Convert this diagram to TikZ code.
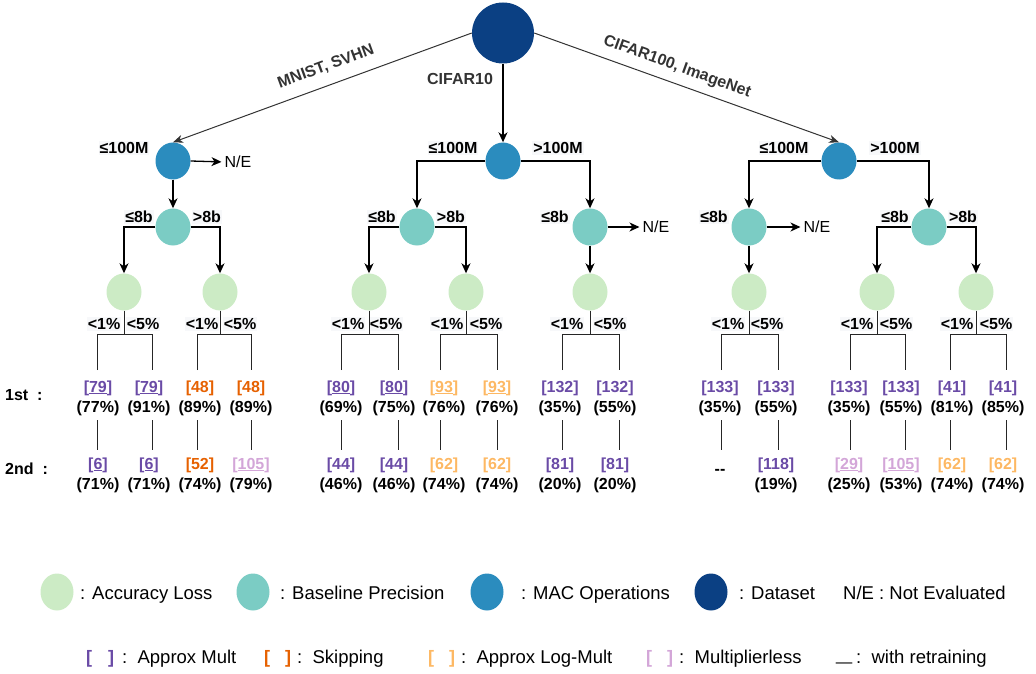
\documentclass[tikz,border=0pt]{standalone}
\usepackage{fontspec}
\setmainfont{Liberation Sans}
\usetikzlibrary{shapes.geometric,arrows.meta}
\definecolor{cAcc}{HTML}{CCEBC5}
\definecolor{cBase}{HTML}{7BCCC4}
\definecolor{cMac}{HTML}{2B8CBE}
\definecolor{cData}{HTML}{0B4083}
\definecolor{cPur}{HTML}{6A4BA6}
\definecolor{cOra}{HTML}{E66101}
\definecolor{cLor}{HTML}{FDB863}
\definecolor{cPink}{HTML}{D3A6D8}
\definecolor{cEdge}{HTML}{333333}
\definecolor{cLbg}{HTML}{F7F8FA}
\newcommand\rP[1]{\textcolor{cPur}{[#1]}}
\newcommand\rO[1]{\textcolor{cOra}{[#1]}}
\newcommand\rL[1]{\textcolor{cLor}{[#1]}}
\newcommand\rK[1]{\textcolor{cPink}{[#1]}}
\begin{document}
\begin{tikzpicture}[x=1pt,y=-1pt,
 circ/.style={ellipse,draw=none,minimum width=35pt,minimum height=37pt,inner sep=0pt},
 accn/.style={circ,fill=cAcc},
 basen/.style={circ,fill=cBase},
 macn/.style={circ,fill=cMac},
 arr/.style={draw=black,line width=1.3pt,-{Stealth[length=10pt,width=9pt,inset=3pt]}},
 darr/.style={draw=cEdge,line width=1pt,-{Stealth[length=10pt,width=8pt,inset=3pt]}},
 ln/.style={draw=black!85,line width=1pt},
 lbl/.style={font=\fontsize{16}{19}\selectfont\bfseries,inner sep=1pt,fill=cLbg},
 ne/.style={font=\fontsize{16}{19}\selectfont,inner sep=0pt},
 leaf/.style={font=\fontsize{16}{19}\selectfont\bfseries,inner sep=0pt,text height=12pt,text depth=4pt},
 dlbl/.style={font=\fontsize{16}{19}\selectfont\bfseries,text=cEdge,inner sep=0pt},
 rowlbl/.style={font=\fontsize{16}{19}\selectfont\bfseries,inner sep=0pt,anchor=west},
 lgtxt/.style={font=\fontsize{18.5}{22}\selectfont,inner sep=0pt,anchor=base west},
 lgbr/.style={font=\fontsize{18}{22}\selectfont\bfseries,inner sep=0pt,anchor=base west},
]
\useasboundingbox (0,0) rectangle (1036,674);

% dataset
\node[ellipse,fill=cData,minimum width=62pt,minimum height=61pt,inner sep=0pt] (ds) at (503,33) {};

% MAC nodes
\node[macn] (macA) at (173,161) {};
\node[macn] (macB) at (503,161) {};
\node[macn] (macC) at (839,161) {};

% baseline nodes
\node[basen] (baseA) at (173,227) {};
\node[basen] (baseB1) at (417,227) {};
\node[basen] (baseB2) at (590,227) {};
\node[basen] (baseC1) at (749,227) {};
\node[basen] (baseC2) at (929,227) {};

% accuracy nodes
\node[accn] (accA1) at (124,292) {};
\node[accn] (accA2) at (220,292) {};
\node[accn] (accB1) at (369,292) {};
\node[accn] (accB2) at (466,292) {};
\node[accn] (accB3) at (590,292) {};
\node[accn] (accC1) at (749,292) {};
\node[accn] (accC2) at (877,292) {};
\node[accn] (accC3) at (976,292) {};

% dataset edges
\draw[darr] (ds.west) -- (macA.north);
\draw[arr] (ds.south) -- (macB.north);
\draw[darr] (ds.east) -- (macC.north);
\node[dlbl,rotate=20.2] (tMN) at (326,67) {MNIST, SVHN};
\node[dlbl] (tC10) at (460,79) {CIFAR10};
\node[dlbl,rotate=-19.9] (tC100) at (677,67) {CIFAR100, ImageNet};

% N/E nodes
\node[ne] (neA) at (238,162) {N/E};
\node[ne] (neB) at (656,227) {N/E};
\node[ne] (neC) at (817,227) {N/E};

% tree A
\draw[arr] (macA) -- (baseA);
\draw[arr,shorten >=3pt] (macA.east) -- (neA.west);
\draw[arr] (baseA.west) -| (accA1.north);
\draw[arr] (baseA.east) -| (accA2.north);
% tree B
\draw[arr] (macB.west) -| (baseB1.north);
\draw[arr] (macB.east) -| (baseB2.north);
\draw[arr] (baseB1.west) -| (accB1.north);
\draw[arr] (baseB1.east) -| (accB2.north);
\draw[arr] (baseB2) -- (accB3);
\draw[arr,shorten >=3pt] (baseB2.east) -- (neB.west);
% tree C
\draw[arr] (macC.west) -| (baseC1.north);
\draw[arr] (macC.east) -| (baseC2.north);
\draw[arr] (baseC1) -- (accC1);
\draw[arr,shorten >=3pt] (baseC1.east) -- (neC.west);
\draw[arr] (baseC2.west) -| (accC2.north);
\draw[arr] (baseC2.east) -| (accC3.north);

% branch labels
\node[lbl] (l1) at (124,148) {≤100M};
\node[lbl] (l2) at (139,217) {≤8b};
\node[lbl] (l3) at (207,217) {>8b};
\node[lbl] (l4) at (453,148) {≤100M};
\node[lbl] (l5) at (558,148) {>100M};
\node[lbl] (l6) at (382,217) {≤8b};
\node[lbl] (l7) at (451,217) {>8b};
\node[lbl] (l8) at (555,217) {≤8b};
\node[lbl] (l9) at (784,148) {≤100M};
\node[lbl] (l10) at (895,148) {>100M};
\node[lbl] (l11) at (714,217) {≤8b};
\node[lbl] (l12) at (895,217) {≤8b};
\node[lbl] (l13) at (963,217) {>8b};

\foreach \n/\xa/\xb in {a1/104/143, a2/202/240, b1/348/386, b2/447/486, b3/567/610, c1/728/767, c2/857/896, c3/957/996} {
  \node[lbl] (pl-\n) at (\xa,324) {<1\%};
  \node[lbl] (pr-\n) at (\xb,324) {<5\%};
}

% leaves: name / text x / line x / refs and percentages
\foreach \n/\x/\lx/\ra/\pa/\rb/\pb in {
  a1/98/97/{\rP{\underline{79}}}/{(77\%)}/{\rP{\underline{6}}}/{(71\%)},
  a2/149/152/{\rP{\underline{79}}}/{(91\%)}/{\rP{\underline{6}}}/{(71\%)},
  a3/200/197/{\rO{48}}/{(89\%)}/{\rO{52}}/{(74\%)},
  a4/251/251/{\rO{48}}/{(89\%)}/{\rK{\underline{105}}}/{(79\%)},
  b1/341/341/{\rP{\underline{80}}}/{(69\%)}/{\rP{44}}/{(46\%)},
  b2/394/398/{\rP{\underline{80}}}/{(75\%)}/{\rP{44}}/{(46\%)},
  b3/444/440/{\rL{\underline{93}}}/{(76\%)}/{\rL{62}}/{(74\%)},
  b4/497/497/{\rL{\underline{93}}}/{(76\%)}/{\rL{62}}/{(74\%)},
  b5/560/562/{\rP{132}}/{(35\%)}/{\rP{81}}/{(20\%)},
  b6/615/619/{\rP{132}}/{(55\%)}/{\rP{81}}/{(20\%)},
  c1/720/721/{\rP{133}}/{(35\%)}/{\raisebox{-5pt}{-{}-}}/{},
  c2/776/778/{\rP{133}}/{(55\%)}/{\rP{118}}/{(19\%)},
  c3/849/850/{\rP{133}}/{(35\%)}/{\rK{\underline{29}}}/{(25\%)},
  c4/901/905/{\rP{133}}/{(55\%)}/{\rK{\underline{105}}}/{(53\%)},
  c5/952/950/{\rP{41}}/{(81\%)}/{\rL{62}}/{(74\%)},
  c6/1003/1006/{\rP{41}}/{(85\%)}/{\rL{62}}/{(74\%)}} {
  \node[leaf] (r1-\n) at (\x,388) {\ra};
  \node[leaf] (p1-\n) at (\x,408) {\pa};
  \node[leaf] (r2-\n) at (\x,465) {\rb};
  \node[leaf] (p2-\n) at (\x,485) {\pb};
  \coordinate (u-\n) at (\lx,370);
  \coordinate (d1-\n) at (\lx,420);
  \coordinate (d2-\n) at (\lx,450);
  \draw[ln] (d1-\n) -- (d2-\n);
}

% accuracy splits
\foreach \acc/\l/\r in {accA1/a1/a2, accA2/a3/a4, accB1/b1/b2, accB2/b3/b4, accB3/b5/b6, accC1/c1/c2, accC2/c3/c4, accC3/c5/c6} {
  \draw[ln] (\acc.south) -- ++(0,24) coordinate (j-\acc);
  \draw[ln] (u-\l) |- (j-\acc) -| (u-\r);
}

% row labels
\node[rowlbl] (row1) at (5,395) {1st\ \ :};
\node[rowlbl] (row2) at (5,469) {2nd\ \ :};

% legend row 1
\node[circ,fill=cAcc,minimum width=33pt] (lg1) at (57,592) {};
\node[lgtxt] (lt1) at (80,599) {: Accuracy Loss};
\node[circ,fill=cBase,minimum width=33pt] (lg2) at (253,592) {};
\node[lgtxt] (lt2) at (280,599) {: Baseline Precision};
\node[circ,fill=cMac,minimum width=33pt] (lg3) at (487,592) {};
\node[lgtxt] (lt3) at (521,599) {: MAC Operations};
\node[circ,fill=cData,minimum width=33pt] (lg4) at (711,592) {};
\node[lgtxt] (lt4) at (739,599) {: Dataset};
\node[lgtxt] (lt5) at (843,599) {N/E : Not Evaluated};

% legend row 2
\node[lgbr,text=cPur] (lb1) at (86,663) {[\hspace{16pt}]};
\node[lgtxt] (lu1) at (122,663) {:\ \ Approx Mult};
\node[lgbr,text=cOra] (lb2) at (264,663) {[\hspace{15pt}]};
\node[lgtxt] (lu2) at (297,663) {:\ \ Skipping};
\node[lgbr,text=cLor] (lb3) at (428,663) {[\hspace{15pt}]};
\node[lgtxt] (lu3) at (461,663) {:\ \ Approx Log-Mult};
\node[lgbr,text=cPink] (lb4) at (646,663) {[\hspace{15pt}]};
\node[lgtxt] (lu4) at (679,663) {:\ \ Multiplierless};
\node[lgbr] (lb5) at (836,660) {\scalebox{1.6}[1.6]{\_}};
\node[lgtxt] (lu5) at (856,663) {:\ \ with retraining};
\end{tikzpicture}
\end{document}
